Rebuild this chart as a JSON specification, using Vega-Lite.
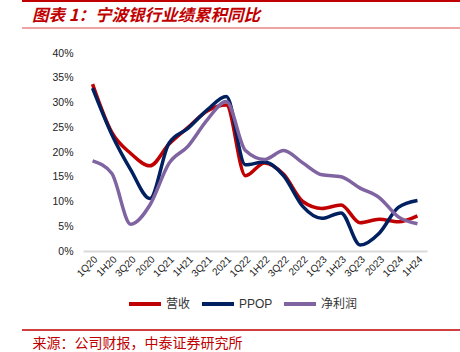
{
  "$schema": "https://vega.github.io/schema/vega-lite/v6.json",
  "width": 344,
  "height": 198,
  "autosize": {"type": "none"},
  "padding": {"left": 83, "top": 53, "right": 33, "bottom": 101},
  "background": "white",
  "config": {
    "view": {"stroke": null},
    "font": "Liberation Sans",
    "axis": {"grid": false, "ticks": false}
  },
  "title": {
    "text": "图表 1：宁波银行业绩累积同比",
    "anchor": "start",
    "frame": "group",
    "dx": -51,
    "fontSize": 16.5,
    "fontStyle": "italic",
    "fontWeight": "bold",
    "color": "#C00000",
    "font": "Noto Sans CJK SC",
    "offset": -24
  },
  "data": {
    "values": [
      {"q": "1Q20", "s": "营收", "v": 33.7}, {"q": "1H20", "s": "营收", "v": 24.0}, {"q": "3Q20", "s": "营收", "v": 19.7}, {"q": "2020", "s": "营收", "v": 17.2},
      {"q": "1Q21", "s": "营收", "v": 21.6}, {"q": "1H21", "s": "营收", "v": 25.0}, {"q": "3Q21", "s": "营收", "v": 28.3}, {"q": "2021", "s": "营收", "v": 29.5},
      {"q": "1Q22", "s": "营收", "v": 15.2}, {"q": "1H22", "s": "营收", "v": 17.8}, {"q": "3Q22", "s": "营收", "v": 15.5}, {"q": "2022", "s": "营收", "v": 10.0},
      {"q": "1Q23", "s": "营收", "v": 8.6}, {"q": "1H23", "s": "营收", "v": 9.3}, {"q": "3Q23", "s": "营收", "v": 5.7}, {"q": "2023", "s": "营收", "v": 6.4},
      {"q": "1Q24", "s": "营收", "v": 5.9}, {"q": "1H24", "s": "营收", "v": 7.1},
      {"q": "1Q20", "s": "PPOP", "v": 32.9}, {"q": "1H20", "s": "PPOP", "v": 23.6}, {"q": "3Q20", "s": "PPOP", "v": 16.4}, {"q": "2020", "s": "PPOP", "v": 10.6},
      {"q": "1Q21", "s": "PPOP", "v": 21.8}, {"q": "1H21", "s": "PPOP", "v": 24.8}, {"q": "3Q21", "s": "PPOP", "v": 28.5}, {"q": "2021", "s": "PPOP", "v": 31.2},
      {"q": "1Q22", "s": "PPOP", "v": 17.4}, {"q": "1H22", "s": "PPOP", "v": 18.0}, {"q": "3Q22", "s": "PPOP", "v": 15.2}, {"q": "2022", "s": "PPOP", "v": 9.0},
      {"q": "1Q23", "s": "PPOP", "v": 6.6}, {"q": "1H23", "s": "PPOP", "v": 7.7}, {"q": "3Q23", "s": "PPOP", "v": 1.2}, {"q": "2023", "s": "PPOP", "v": 3.6},
      {"q": "1Q24", "s": "PPOP", "v": 8.8}, {"q": "1H24", "s": "PPOP", "v": 10.2},
      {"q": "1Q20", "s": "净利润", "v": 18.2}, {"q": "1H20", "s": "净利润", "v": 15.7}, {"q": "3Q20", "s": "净利润", "v": 5.4}, {"q": "2020", "s": "净利润", "v": 9.3},
      {"q": "1Q21", "s": "净利润", "v": 17.7}, {"q": "1H21", "s": "净利润", "v": 21.2}, {"q": "3Q21", "s": "净利润", "v": 26.5}, {"q": "2021", "s": "净利润", "v": 30.2},
      {"q": "1Q22", "s": "净利润", "v": 20.3}, {"q": "1H22", "s": "净利润", "v": 18.5}, {"q": "3Q22", "s": "净利润", "v": 20.3}, {"q": "2022", "s": "净利润", "v": 17.8},
      {"q": "1Q23", "s": "净利润", "v": 15.4}, {"q": "1H23", "s": "净利润", "v": 15.0}, {"q": "3Q23", "s": "净利润", "v": 12.7}, {"q": "2023", "s": "净利润", "v": 10.8},
      {"q": "1Q24", "s": "净利润", "v": 6.9}, {"q": "1H24", "s": "净利润", "v": 5.5}
    ]
  },
  "layer": [
    {
      "mark": {"type": "line", "strokeWidth": 3.5, "interpolate": "monotone"},
      "encoding": {
        "x": {
          "field": "q", "type": "ordinal", "sort": null,
          "scale": {"type": "band", "paddingInner": 0, "paddingOuter": 0},
          "axis": {
            "title": "来源：公司财报，中泰证券研究所",
            "titleFont": "Noto Sans CJK SC",
            "titleFontSize": 14,
            "titleFontWeight": "normal",
            "titleColor": "#C00000",
            "titleAnchor": "start",
            "titleAlign": "left",
            "titleBaseline": "middle",
            "titleX": -51,
            "titleY": 92,
            "labelAngle": -45,
            "labelFontSize": 10,
            "labelColor": "#222222",
            "labelPadding": 3,
            "domainColor": "#D9D9D9",
            "domainWidth": 2
          }
        },
        "y": {
          "field": "v", "type": "quantitative",
          "scale": {"domain": [0, 40]},
          "axis": {
            "title": null,
            "values": [0, 5, 10, 15, 20, 25, 30, 35, 40],
            "labelExpr": "datum.value + '%'",
            "domain": false,
            "labelFontSize": 10.5,
            "labelColor": "#222222",
            "labelPadding": 10
          }
        },
        "color": {
          "field": "s", "type": "nominal",
          "scale": {"domain": ["营收", "PPOP", "净利润"], "range": ["#C00000", "#002060", "#8064A2"]},
          "legend": {
            "title": null,
            "orient": "none",
            "direction": "horizontal",
            "legendX": 44,
            "legendY": 233,
            "symbolType": "stroke",
            "symbolSize": 1024,
            "symbolStrokeWidth": 4,
            "labelFont": "Liberation Sans, Noto Sans CJK SC",
            "labelFontSize": 12,
            "labelColor": "#333333",
            "labelOffset": 3,
            "columnPadding": 3
          }
        }
      }
    },
    {
      "mark": {"type": "rule", "color": "#C00000", "strokeWidth": 2},
      "encoding": {"x": {"value": -61}, "x2": {"value": 377}, "y": {"value": -52}}
    },
    {
      "mark": {"type": "rule", "color": "#EFA5A5", "strokeWidth": 1.5},
      "encoding": {"x": {"value": -61}, "x2": {"value": 377}, "y": {"value": -25}}
    },
    {
      "mark": {"type": "rule", "color": "#D04040", "strokeWidth": 1},
      "encoding": {"x": {"value": -61}, "x2": {"value": 377}, "y": {"value": 277}}
    }
  ]
}
